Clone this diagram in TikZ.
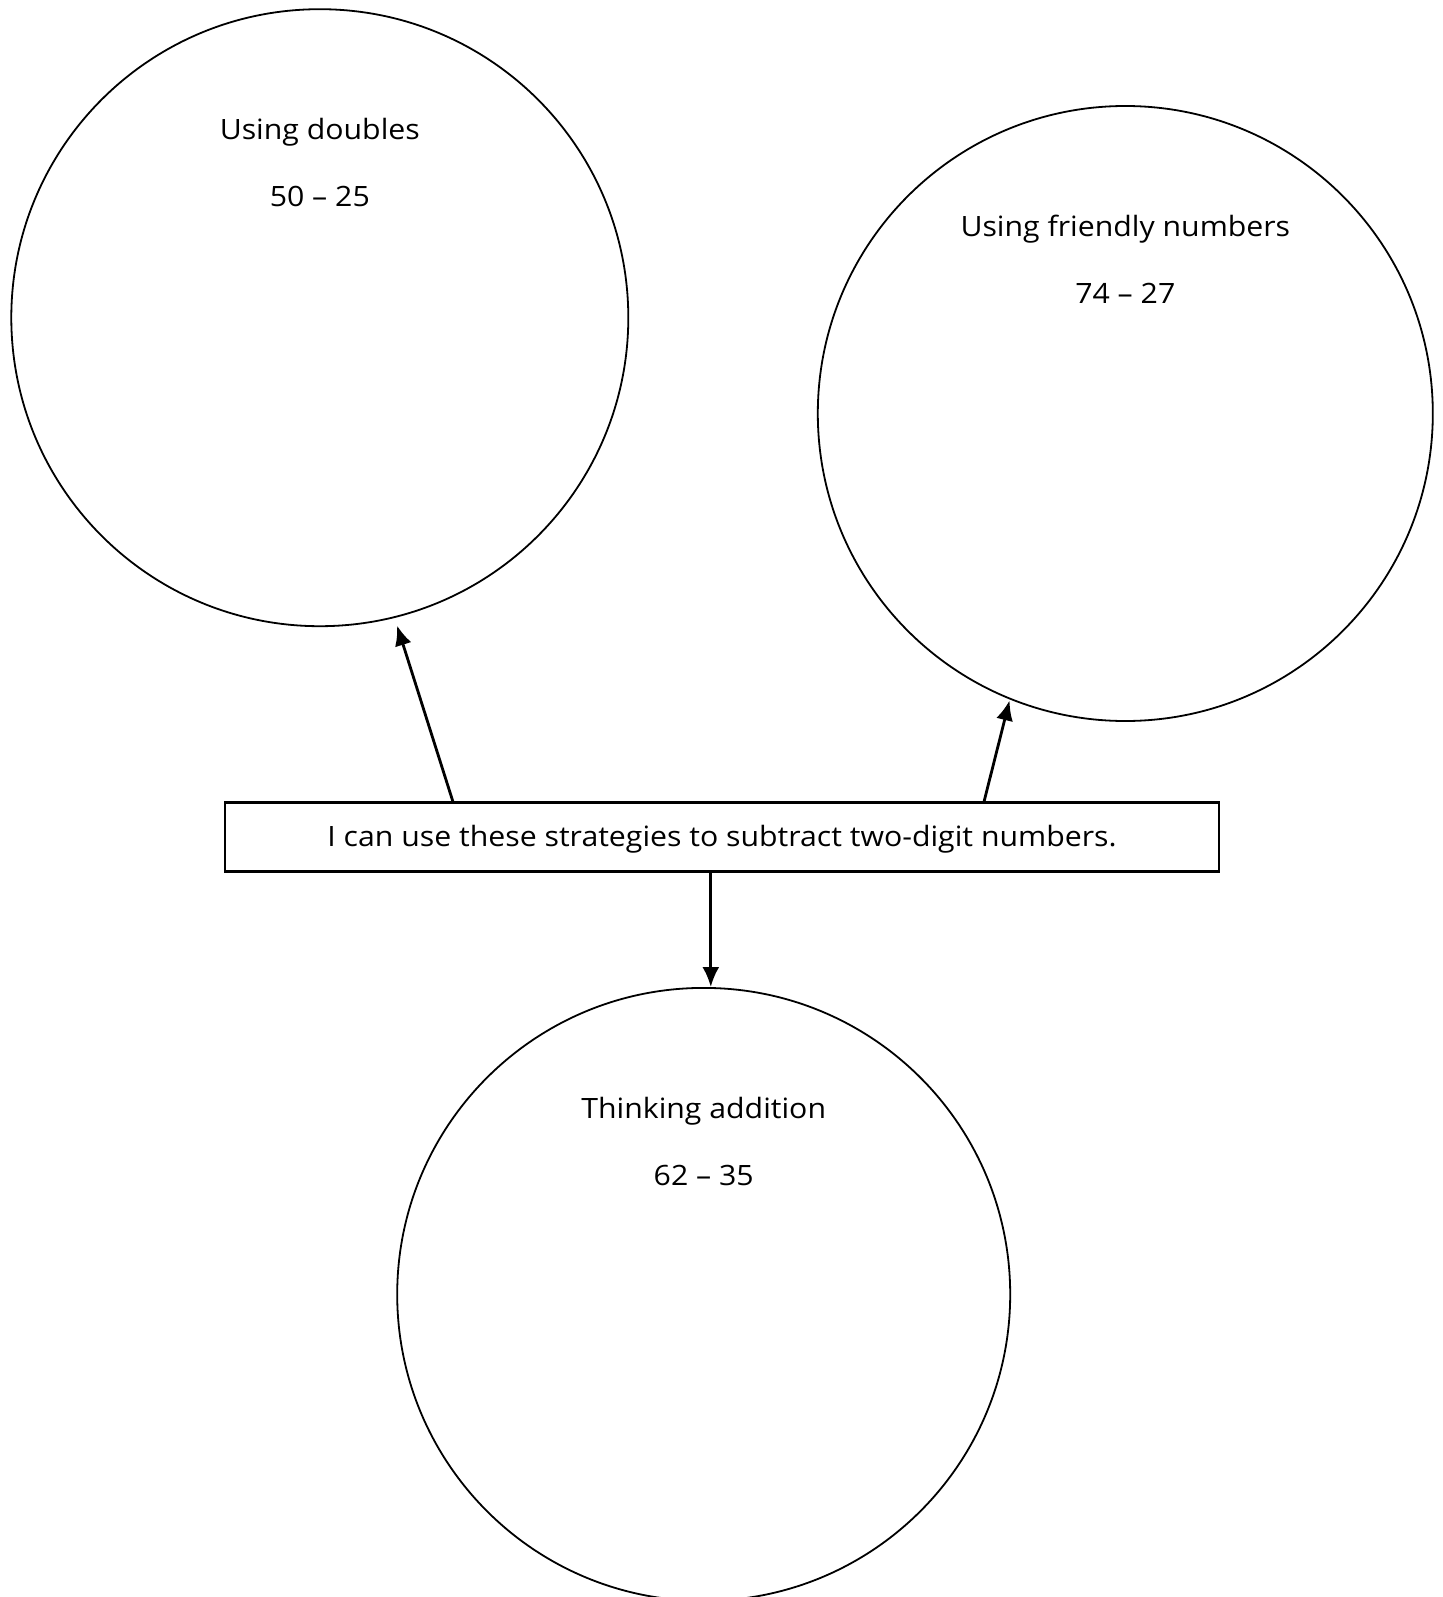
\documentclass[tikz,border=0pt]{standalone}
\usepackage{fontspec}
\setmainfont{Open Sans}[FakeStretch=1.08]
\usetikzlibrary{arrows.meta}
\begin{document}
\begin{tikzpicture}[x=1pt,y=-1pt,
  bubble/.style={circle,draw,line width=1.8pt,inner sep=0pt},
  label/.style={anchor=base,inner sep=0pt,font=\fontsize{28}{33}\selectfont},
  box/.style={draw,line width=2.2pt,minimum width=994pt,minimum height=69pt,inner sep=0pt},
  link/.style={line width=2.8pt,-{Latex[length=20pt,width=17pt]}}]
\useasboundingbox (0,0) rectangle (1442,1597);
\node[bubble,minimum size=617pt] (c1) at (319.8,317.7) {};
\node[bubble,minimum size=615pt] (c2) at (1125.3,413.5) {};
\node[bubble,minimum size=613pt] (c3) at (703.7,1294.4) {};
\node[box] (r) at (722,837) {};
\node[label] (t) at (722,846.3) {I can use these strategies to subtract two-digit numbers.};
\node[label] (l1) at (319.8,139.5) {Using doubles};
\node[label] (n1) at (319.8,206.7) {50 – 25};
\node[label] (l2) at (1125.3,236.3) {Using friendly numbers};
\node[label] (n2) at (1125.3,303.5) {74 – 27};
\node[label] (l3) at (703.7,1118.2) {Thinking addition};
\node[label] (n3) at (703.7,1185.4) {62 – 35};
\coordinate (a1) at (453.2,802.5);
\coordinate (a2) at (983.8,802.5);
\coordinate (a3) at (710.8,871.8);
\draw[link,shorten >=8pt] (a1) -- (c1.-76);
\draw[link,shorten >=1pt] (a2) -- (c2.-112);
\draw[link] (a3) -- (a3 |- c3.north);
\end{tikzpicture}
\end{document}
